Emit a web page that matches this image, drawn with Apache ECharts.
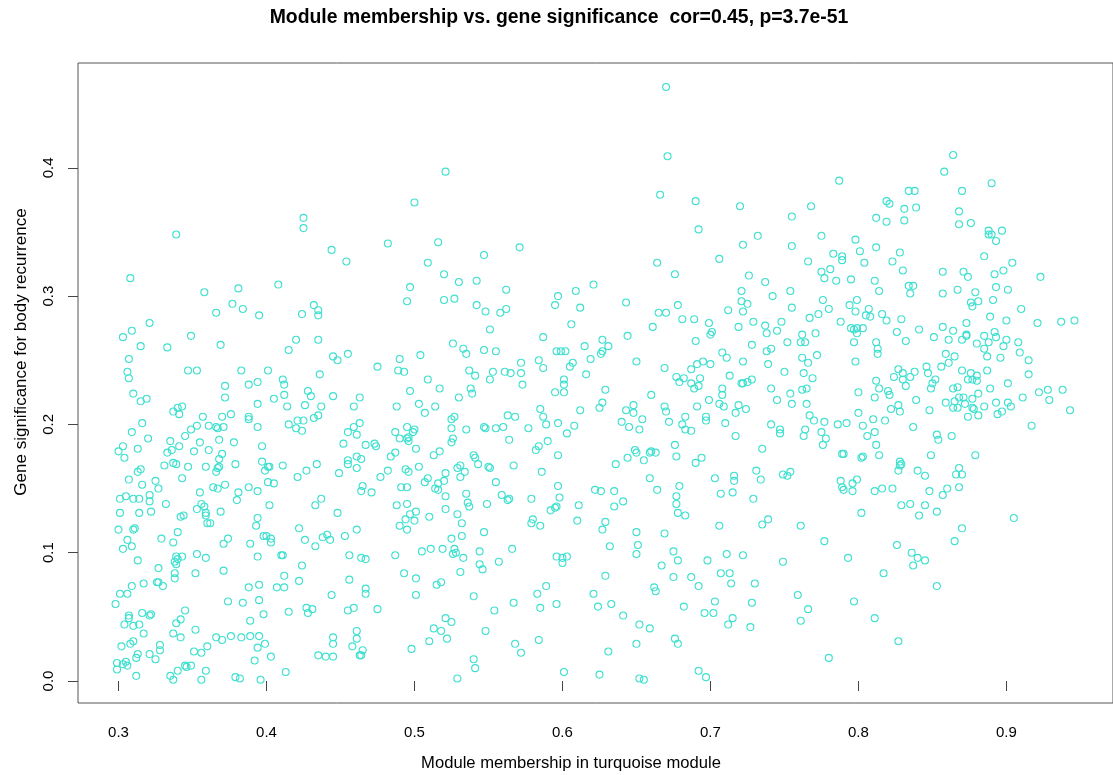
<!DOCTYPE html>
<html><head><meta charset="utf-8">
<script src="https://cdn.jsdelivr.net/npm/echarts@6/dist/echarts.min.js"></script>
<style>html,body{margin:0;padding:0;background:#fff}#chart{width:1113px;height:775px}</style>
</head><body><div id="chart"></div>
<script>
const chartTitle = 'Module membership vs. gene significance  cor=0.45, p=3.7e-51';
const xAxisTitle = 'Module membership in turquoise module';
const yAxisTitle = 'Gene significance for body recurrence';
const xTickValues = [0.3, 0.4, 0.5, 0.6, 0.7, 0.8, 0.9];
const yTickValues = [0.0, 0.1, 0.2, 0.3, 0.4];

// [module membership, gene significance]
const genesUpperLeft = [[0.339,0.348],[0.425,0.361],[0.425,0.353],[0.308,0.314],[0.358,0.303],[0.381,0.306],[0.408,0.309],[0.377,0.294],[0.384,0.290],[0.366,0.287],[0.395,0.285],[0.424,0.286],[0.432,0.293],[0.435,0.289],[0.435,0.285],[0.321,0.279],[0.309,0.273],[0.303,0.268],[0.349,0.269],[0.315,0.261],[0.333,0.260],[0.369,0.262],[0.420,0.266],[0.435,0.266],[0.415,0.258],[0.307,0.251],[0.306,0.241],[0.307,0.236],[0.347,0.242],[0.353,0.242],[0.383,0.242],[0.401,0.242],[0.436,0.239],[0.411,0.235],[0.412,0.231],[0.388,0.231],[0.394,0.233],[0.372,0.230],
[0.521,0.397],[0.500,0.373],[0.482,0.341],[0.516,0.342],[0.444,0.336],[0.454,0.327],[0.509,0.326],[0.547,0.332],[0.571,0.338],[0.520,0.317],[0.530,0.311],[0.542,0.312],[0.497,0.307],[0.562,0.305],[0.495,0.296],[0.520,0.297],[0.527,0.298],[0.542,0.293],[0.548,0.288],[0.558,0.287],[0.562,0.290],[0.597,0.300],[0.595,0.293],[0.609,0.304],[0.612,0.291],[0.606,0.278],[0.551,0.274],[0.587,0.268],[0.526,0.263],[0.533,0.259],[0.535,0.255],[0.547,0.258],[0.555,0.257],[0.445,0.253],[0.448,0.250],[0.455,0.255],[0.475,0.245],[0.490,0.251],[0.489,0.242],[0.493,0.241],[0.504,0.254],[0.509,0.235],[0.537,0.242],[0.541,0.238],[0.551,0.235],[0.553,0.241],[0.561,0.241],[0.565,0.240],[0.572,0.248],[0.572,0.240],[0.573,0.231],[0.584,0.250],[0.587,0.244],[0.596,0.257],[0.599,0.257],[0.602,0.257],[0.605,0.245],[0.607,0.248],[0.615,0.261],[0.616,0.239],[0.601,0.235],[0.601,0.231]];

const genesUpperRight = [[0.670,0.463],[0.671,0.409],[0.666,0.379],[0.690,0.374],[0.720,0.370],[0.768,0.370],[0.787,0.390],[0.755,0.362],[0.692,0.352],[0.732,0.347],[0.775,0.347],[0.722,0.340],[0.755,0.339],[0.706,0.329],[0.664,0.326],[0.676,0.317],[0.783,0.333],[0.789,0.331],[0.789,0.328],[0.766,0.327],[0.781,0.321],[0.775,0.319],[0.777,0.314],[0.785,0.312],[0.726,0.316],[0.737,0.311],[0.621,0.309],[0.721,0.304],[0.754,0.304],[0.742,0.300],[0.776,0.297],[0.643,0.295],[0.678,0.293],[0.721,0.296],[0.725,0.294],[0.722,0.288],[0.665,0.287],[0.670,0.287],[0.712,0.289],[0.755,0.291],[0.780,0.290],[0.767,0.283],[0.773,0.286],[0.681,0.282],[0.689,0.282],[0.661,0.276],[0.699,0.279],[0.719,0.276],[0.729,0.280],[0.737,0.277],[0.748,0.280],[0.788,0.280],[0.738,0.271],[0.745,0.273],[0.700,0.270],[0.701,0.272],[0.762,0.270],[0.771,0.271],[0.644,0.269],[0.690,0.265],[0.761,0.264],[0.764,0.264],[0.752,0.264],[0.728,0.262],[0.627,0.266],[0.631,0.261],[0.627,0.257],[0.626,0.255],[0.619,0.251],[0.650,0.249],[0.708,0.256],[0.711,0.252],[0.722,0.249],[0.738,0.257],[0.741,0.259],[0.772,0.254],[0.762,0.252],[0.766,0.248],[0.695,0.249],[0.700,0.247],[0.691,0.247],[0.687,0.243],[0.669,0.244],[0.739,0.247],[0.750,0.241],[0.763,0.240],[0.769,0.236],[0.713,0.238],[0.677,0.237],[0.682,0.236],[0.679,0.233],[0.687,0.232],[0.693,0.236],[0.692,0.230],[0.721,0.232],[0.722,0.232],[0.725,0.233],[0.728,0.235],
[0.864,0.410],[0.858,0.397],[0.890,0.388],[0.834,0.382],[0.838,0.382],[0.870,0.382],[0.819,0.374],[0.821,0.372],[0.831,0.368],[0.839,0.369],[0.868,0.366],[0.812,0.361],[0.819,0.358],[0.831,0.359],[0.868,0.356],[0.876,0.357],[0.888,0.351],[0.888,0.348],[0.890,0.348],[0.893,0.343],[0.897,0.351],[0.798,0.344],[0.812,0.338],[0.828,0.334],[0.801,0.335],[0.823,0.327],[0.804,0.326],[0.885,0.331],[0.904,0.326],[0.898,0.320],[0.892,0.317],[0.857,0.319],[0.871,0.319],[0.874,0.315],[0.830,0.320],[0.923,0.315],[0.795,0.313],[0.811,0.312],[0.814,0.304],[0.834,0.308],[0.837,0.308],[0.835,0.302],[0.857,0.302],[0.867,0.305],[0.879,0.303],[0.893,0.307],[0.901,0.305],[0.799,0.297],[0.794,0.293],[0.876,0.295],[0.877,0.292],[0.881,0.296],[0.891,0.297],[0.910,0.290],[0.798,0.288],[0.807,0.290],[0.805,0.285],[0.808,0.284],[0.816,0.286],[0.819,0.281],[0.829,0.282],[0.889,0.284],[0.900,0.281],[0.921,0.279],[0.937,0.280],[0.946,0.281],[0.873,0.279],[0.857,0.276],[0.864,0.273],[0.795,0.275],[0.797,0.274],[0.799,0.275],[0.803,0.275],[0.799,0.271],[0.826,0.272],[0.841,0.274],[0.873,0.270],[0.873,0.269],[0.870,0.266],[0.861,0.266],[0.851,0.268],[0.832,0.265],[0.797,0.264],[0.812,0.264],[0.813,0.259],[0.813,0.255],[0.885,0.269],[0.892,0.272],[0.893,0.268],[0.900,0.266],[0.888,0.264],[0.880,0.263],[0.885,0.259],[0.898,0.261],[0.887,0.253],[0.908,0.264],[0.909,0.256],[0.896,0.252],[0.915,0.250],[0.798,0.249],[0.859,0.255],[0.865,0.253],[0.861,0.248],[0.856,0.245],[0.846,0.245],[0.847,0.240],[0.838,0.241],[0.827,0.243],[0.830,0.240],[0.824,0.237],[0.835,0.237],[0.830,0.235],[0.832,0.230],[0.852,0.235],[0.850,0.232],[0.870,0.242],[0.876,0.240],[0.880,0.238],[0.874,0.235],[0.877,0.235],[0.880,0.234],[0.887,0.242],[0.915,0.239],[0.901,0.232],[0.812,0.234]];

const genesLowerLeft = [[0.310,0.224],[0.315,0.218],[0.319,0.220],[0.372,0.221],[0.428,0.226],[0.430,0.222],[0.412,0.223],[0.414,0.214],[0.405,0.220],[0.394,0.216],[0.426,0.215],[0.437,0.214],[0.337,0.210],[0.340,0.213],[0.343,0.214],[0.341,0.208],[0.357,0.206],[0.376,0.208],[0.370,0.206],[0.388,0.206],[0.388,0.204],[0.415,0.200],[0.421,0.203],[0.425,0.203],[0.435,0.207],[0.432,0.205],[0.420,0.197],[0.424,0.195],[0.316,0.201],[0.309,0.194],[0.320,0.189],[0.349,0.196],[0.353,0.199],[0.361,0.199],[0.366,0.198],[0.367,0.197],[0.371,0.198],[0.394,0.198],[0.345,0.191],[0.335,0.187],[0.341,0.183],[0.303,0.183],[0.300,0.179],[0.304,0.174],[0.313,0.181],[0.355,0.186],[0.351,0.179],[0.361,0.180],[0.368,0.188],[0.370,0.177],[0.378,0.186],[0.397,0.183],[0.333,0.178],[0.336,0.180],[0.368,0.173],[0.331,0.168],[0.337,0.170],[0.339,0.169],[0.347,0.167],[0.359,0.167],[0.367,0.166],[0.368,0.167],[0.366,0.163],[0.379,0.169],[0.397,0.171],[0.399,0.164],[0.401,0.167],[0.402,0.167],[0.411,0.168],[0.421,0.159],[0.427,0.164],[0.434,0.169],[0.313,0.163],[0.315,0.165],[0.307,0.157],[0.316,0.153],[0.325,0.156],[0.327,0.150],[0.343,0.158],[0.364,0.151],[0.367,0.150],[0.372,0.153],[0.388,0.151],[0.394,0.148],[0.381,0.147],[0.380,0.141],[0.401,0.155],[0.405,0.154],[0.301,0.142],[0.305,0.144],[0.310,0.142],[0.314,0.142],[0.321,0.145],[0.321,0.140],[0.332,0.138],[0.355,0.147],[0.301,0.131],[0.314,0.131],[0.322,0.132],[0.353,0.134],[0.356,0.138],[0.358,0.136],[0.359,0.131],[0.359,0.129],[0.360,0.123],[0.362,0.123],[0.369,0.132],[0.342,0.128],[0.344,0.129],[0.402,0.137],[0.394,0.127],[0.393,0.121],[0.433,0.137],[0.437,0.142],[0.300,0.118],[0.310,0.118],[0.311,0.119],[0.306,0.110],[0.303,0.103],[0.309,0.105],[0.329,0.111],[0.337,0.108],[0.340,0.116],[0.374,0.111],[0.371,0.107],[0.398,0.113],[0.400,0.113],[0.403,0.111],[0.403,0.108],[0.389,0.107],[0.422,0.119],[0.426,0.110],[0.433,0.105],[0.438,0.112],[0.441,0.114],[0.313,0.094],[0.339,0.097],[0.340,0.095],[0.339,0.091],[0.338,0.093],[0.343,0.097],[0.353,0.099],[0.359,0.096],[0.394,0.097],[0.410,0.098],[0.411,0.098],[0.424,0.090],[0.327,0.088],[0.338,0.084],[0.338,0.080],[0.352,0.084],[0.371,0.086],[0.309,0.074],[0.317,0.076],[0.326,0.077],[0.327,0.077],[0.330,0.074],[0.301,0.068],[0.306,0.068],[0.298,0.060],[0.388,0.073],[0.395,0.075],[0.407,0.073],[0.412,0.073],[0.412,0.082],[0.422,0.078],[0.374,0.062],[0.384,0.061],[0.395,0.063],[0.415,0.054],[0.427,0.057],[0.428,0.053],[0.431,0.056],[0.307,0.051],[0.307,0.049],[0.304,0.044],[0.310,0.043],[0.314,0.044],[0.316,0.053],[0.321,0.051],[0.322,0.052],[0.345,0.055],[0.339,0.045],[0.342,0.048],[0.389,0.047],[0.398,0.052],[0.317,0.037],[0.337,0.037],[0.342,0.034],[0.352,0.040],[0.366,0.034],[0.370,0.032],[0.376,0.035],[0.383,0.034],[0.389,0.035],[0.395,0.035],[0.302,0.027],[0.308,0.029],[0.310,0.031],[0.328,0.028],[0.328,0.024],[0.313,0.021],[0.312,0.018],[0.321,0.021],[0.325,0.017],[0.351,0.023],[0.356,0.022],[0.360,0.027],[0.394,0.026],[0.399,0.029],[0.403,0.019],[0.392,0.016],[0.435,0.020],[0.440,0.019],[0.299,0.014],[0.303,0.013],[0.305,0.015],[0.306,0.012],[0.299,0.009],[0.312,0.004],[0.335,0.004],[0.337,0.001],[0.340,0.008],[0.345,0.012],[0.346,0.011],[0.349,0.012],[0.359,0.008],[0.356,0.001],[0.379,0.003],[0.382,0.002],[0.396,0.001],[0.413,0.007],
[0.445,0.222],[0.463,0.221],[0.459,0.214],[0.488,0.214],[0.503,0.216],[0.507,0.209],[0.514,0.214],[0.497,0.226],[0.517,0.228],[0.530,0.221],[0.538,0.228],[0.539,0.224],[0.595,0.225],[0.601,0.225],[0.455,0.194],[0.459,0.198],[0.463,0.201],[0.461,0.192],[0.452,0.185],[0.467,0.184],[0.473,0.185],[0.474,0.183],[0.487,0.194],[0.495,0.198],[0.500,0.196],[0.499,0.194],[0.490,0.189],[0.495,0.189],[0.496,0.190],[0.496,0.187],[0.501,0.181],[0.525,0.204],[0.527,0.206],[0.525,0.197],[0.535,0.196],[0.526,0.189],[0.525,0.186],[0.547,0.198],[0.548,0.197],[0.555,0.197],[0.560,0.198],[0.563,0.207],[0.568,0.206],[0.577,0.197],[0.564,0.188],[0.585,0.212],[0.587,0.206],[0.589,0.200],[0.597,0.201],[0.603,0.193],[0.608,0.199],[0.612,0.211],[0.590,0.187],[0.584,0.183],[0.582,0.180],[0.597,0.176],[0.455,0.172],[0.455,0.169],[0.461,0.175],[0.464,0.173],[0.461,0.166],[0.449,0.162],[0.477,0.159],[0.482,0.164],[0.484,0.175],[0.487,0.178],[0.494,0.165],[0.496,0.163],[0.503,0.167],[0.513,0.176],[0.517,0.179],[0.521,0.162],[0.520,0.156],[0.516,0.154],[0.509,0.158],[0.507,0.155],[0.514,0.150],[0.516,0.149],[0.521,0.144],[0.529,0.166],[0.531,0.168],[0.534,0.163],[0.531,0.159],[0.540,0.176],[0.541,0.174],[0.543,0.169],[0.550,0.167],[0.551,0.166],[0.555,0.155],[0.567,0.168],[0.586,0.163],[0.465,0.152],[0.464,0.148],[0.471,0.147],[0.491,0.151],[0.495,0.151],[0.488,0.137],[0.495,0.138],[0.497,0.130],[0.501,0.132],[0.500,0.125],[0.494,0.126],[0.490,0.121],[0.495,0.118],[0.510,0.128],[0.521,0.134],[0.529,0.130],[0.532,0.123],[0.535,0.146],[0.536,0.139],[0.537,0.136],[0.549,0.138],[0.559,0.145],[0.563,0.141],[0.564,0.142],[0.579,0.142],[0.597,0.152],[0.598,0.143],[0.592,0.133],[0.595,0.135],[0.596,0.136],[0.611,0.137],[0.610,0.125],[0.580,0.126],[0.579,0.123],[0.585,0.121],[0.448,0.131],[0.453,0.113],[0.461,0.118],[0.443,0.110],[0.456,0.098],[0.464,0.096],[0.467,0.095],[0.487,0.098],[0.505,0.101],[0.511,0.103],[0.519,0.103],[0.525,0.111],[0.527,0.103],[0.528,0.100],[0.526,0.099],[0.533,0.096],[0.532,0.113],[0.547,0.116],[0.544,0.101],[0.544,0.091],[0.546,0.087],[0.557,0.093],[0.566,0.103],[0.596,0.097],[0.600,0.096],[0.600,0.092],[0.603,0.097],[0.444,0.067],[0.456,0.079],[0.467,0.072],[0.467,0.068],[0.493,0.084],[0.501,0.080],[0.501,0.067],[0.515,0.075],[0.518,0.077],[0.531,0.085],[0.540,0.066],[0.455,0.055],[0.459,0.057],[0.475,0.056],[0.567,0.061],[0.583,0.068],[0.589,0.074],[0.585,0.057],[0.596,0.060],[0.554,0.055],[0.521,0.049],[0.525,0.046],[0.513,0.041],[0.518,0.039],[0.510,0.031],[0.522,0.033],[0.548,0.039],[0.445,0.034],[0.445,0.029],[0.461,0.039],[0.461,0.033],[0.458,0.027],[0.465,0.024],[0.463,0.020],[0.464,0.020],[0.445,0.019],[0.498,0.025],[0.568,0.029],[0.572,0.022],[0.584,0.032],[0.540,0.017],[0.541,0.010],[0.529,0.002],[0.601,0.007]];

const genesLowerRight = [[0.629,0.227],[0.660,0.223],[0.689,0.228],[0.708,0.228],[0.741,0.228],[0.754,0.224],[0.762,0.227],[0.765,0.228],[0.627,0.217],[0.625,0.213],[0.643,0.211],[0.648,0.215],[0.648,0.209],[0.640,0.202],[0.645,0.198],[0.652,0.196],[0.654,0.204],[0.669,0.214],[0.670,0.210],[0.672,0.202],[0.683,0.206],[0.681,0.200],[0.683,0.196],[0.687,0.195],[0.691,0.214],[0.699,0.219],[0.697,0.206],[0.697,0.203],[0.706,0.216],[0.708,0.223],[0.709,0.214],[0.710,0.201],[0.719,0.215],[0.717,0.209],[0.724,0.212],[0.717,0.191],[0.745,0.219],[0.755,0.216],[0.765,0.216],[0.767,0.207],[0.770,0.203],[0.777,0.202],[0.786,0.200],[0.792,0.201],[0.741,0.200],[0.747,0.196],[0.747,0.193],[0.763,0.191],[0.764,0.196],[0.775,0.194],[0.778,0.189],[0.776,0.184],[0.676,0.184],[0.677,0.175],[0.649,0.180],[0.650,0.178],[0.644,0.174],[0.655,0.172],[0.659,0.178],[0.660,0.179],[0.663,0.178],[0.636,0.169],[0.690,0.170],[0.694,0.174],[0.735,0.181],[0.789,0.177],[0.790,0.177],[0.703,0.158],[0.716,0.160],[0.716,0.156],[0.731,0.164],[0.734,0.157],[0.749,0.161],[0.752,0.160],[0.754,0.163],[0.788,0.156],[0.789,0.151],[0.790,0.149],[0.659,0.158],[0.664,0.149],[0.679,0.152],[0.622,0.149],[0.626,0.148],[0.635,0.148],[0.641,0.140],[0.635,0.136],[0.677,0.144],[0.677,0.138],[0.678,0.131],[0.683,0.129],[0.707,0.146],[0.715,0.147],[0.729,0.142],[0.629,0.124],[0.627,0.118],[0.650,0.116],[0.669,0.115],[0.706,0.121],[0.735,0.122],[0.739,0.126],[0.761,0.121],[0.777,0.109],[0.632,0.105],[0.651,0.106],[0.650,0.099],[0.675,0.101],[0.678,0.094],[0.667,0.090],[0.698,0.094],[0.711,0.099],[0.722,0.098],[0.749,0.093],[0.629,0.082],[0.675,0.081],[0.687,0.081],[0.692,0.074],[0.707,0.084],[0.713,0.084],[0.714,0.076],[0.730,0.076],[0.662,0.073],[0.663,0.070],[0.621,0.068],[0.624,0.058],[0.633,0.060],[0.682,0.058],[0.703,0.062],[0.728,0.061],[0.759,0.067],[0.766,0.056],[0.641,0.051],[0.696,0.053],[0.702,0.053],[0.715,0.049],[0.712,0.044],[0.727,0.042],[0.761,0.047],[0.652,0.044],[0.659,0.041],[0.650,0.029],[0.676,0.033],[0.678,0.029],[0.631,0.023],[0.780,0.018],[0.625,0.005],[0.652,0.002],[0.655,0.001],[0.692,0.008],[0.697,0.003],
[0.800,0.225],[0.814,0.228],[0.811,0.221],[0.820,0.226],[0.821,0.223],[0.839,0.219],[0.849,0.228],[0.848,0.211],[0.822,0.212],[0.827,0.215],[0.828,0.210],[0.800,0.209],[0.803,0.199],[0.810,0.204],[0.818,0.203],[0.806,0.191],[0.811,0.194],[0.812,0.184],[0.837,0.198],[0.853,0.192],[0.854,0.188],[0.863,0.191],[0.864,0.228],[0.867,0.229],[0.859,0.217],[0.865,0.218],[0.864,0.213],[0.867,0.213],[0.868,0.221],[0.871,0.221],[0.872,0.216],[0.877,0.220],[0.877,0.213],[0.878,0.212],[0.874,0.206],[0.881,0.207],[0.881,0.224],[0.885,0.214],[0.889,0.228],[0.893,0.217],[0.894,0.208],[0.897,0.210],[0.901,0.217],[0.903,0.214],[0.911,0.221],[0.922,0.225],[0.928,0.227],[0.929,0.219],[0.938,0.227],[0.943,0.211],[0.917,0.199],[0.802,0.174],[0.803,0.175],[0.814,0.176],[0.828,0.171],[0.829,0.169],[0.828,0.168],[0.827,0.164],[0.840,0.164],[0.845,0.160],[0.849,0.176],[0.868,0.166],[0.866,0.161],[0.870,0.161],[0.879,0.176],[0.796,0.154],[0.799,0.157],[0.796,0.148],[0.811,0.148],[0.816,0.150],[0.823,0.150],[0.848,0.148],[0.860,0.150],[0.857,0.145],[0.868,0.151],[0.829,0.137],[0.835,0.138],[0.845,0.137],[0.841,0.129],[0.853,0.132],[0.802,0.131],[0.905,0.127],[0.870,0.119],[0.865,0.109],[0.826,0.106],[0.836,0.100],[0.840,0.096],[0.845,0.094],[0.837,0.090],[0.793,0.096],[0.817,0.084],[0.853,0.074],[0.797,0.062],[0.811,0.049],[0.827,0.031]];

const allGenes = genesUpperLeft.concat(genesUpperRight, genesLowerLeft, genesLowerRight);

const FONT = '"Liberation Sans", Arial, Helvetica, sans-serif';
const chart = echarts.init(document.getElementById('chart'), null, {renderer: 'canvas'});
chart.setOption({
  animation: false,
  backgroundColor: '#ffffff',
  grid: {left: 78, top: 63, width: 1040, height: 640, show: true, borderColor: '#555555', borderWidth: 1, backgroundColor: 'transparent'},
  xAxis: {
    type: 'value', min: 0.27263, max: 0.97203,
    axisLine: {show: false},
    splitLine: {show: false},
    axisTick: {show: true, inside: false, length: 10, customValues: xTickValues, lineStyle: {color: '#444', width: 1}},
    axisLabel: {show: true, customValues: xTickValues, margin: 22, fontSize: 15, color: '#000', fontFamily: FONT,
      formatter: v => Number(v).toFixed(1)}
  },
  yAxis: {
    type: 'value', min: -0.01715, max: 0.48168,
    axisLine: {show: false},
    splitLine: {show: false},
    axisTick: {show: true, inside: false, length: 10, customValues: yTickValues, lineStyle: {color: '#444', width: 1}},
    axisLabel: {show: true, customValues: yTickValues, rotate: 90, margin: 22, fontSize: 15, color: '#000', fontFamily: FONT,
      formatter: v => Number(v).toFixed(1)}
  },
  graphic: [
    {type: 'text', x: 559, y: 18, style: {text: chartTitle, fontSize: 19.4, fontWeight: 'bold', fontFamily: FONT, fill: '#000', align: 'center', verticalAlign: 'middle'}},
    {type: 'text', x: 571, y: 763, style: {text: xAxisTitle, fontSize: 16.6, fontFamily: FONT, fill: '#000', align: 'center', verticalAlign: 'middle'}},
    {type: 'text', x: 21, y: 352, rotation: Math.PI / 2, style: {text: yAxisTitle, fontSize: 17, fontFamily: FONT, fill: '#000', align: 'center', verticalAlign: 'middle'}}
  ],
  series: [{
    type: 'scatter',
    data: allGenes,
    symbol: 'circle',
    symbolSize: 7,
    silent: true,
    itemStyle: {color: 'rgba(0,0,0,0)', borderColor: '#40E0D0', borderWidth: 1.1, opacity: 1}
  }]
});
</script>
</body></html>
